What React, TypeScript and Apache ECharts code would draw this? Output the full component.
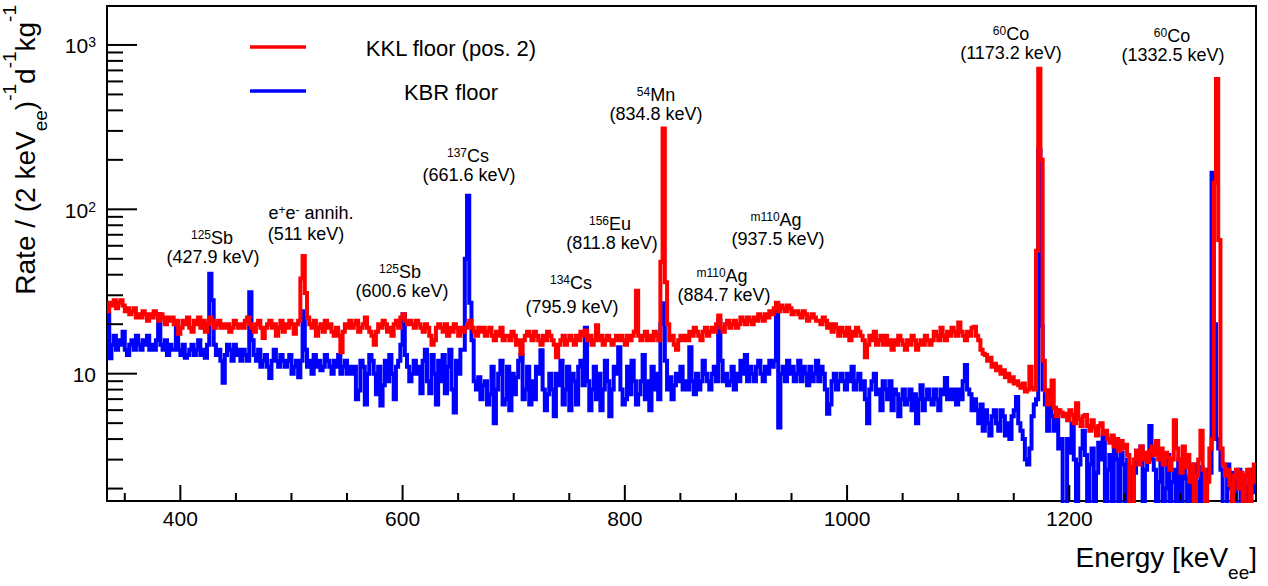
import React, { useEffect, useRef } from 'react';
import * as echarts from 'echarts';

const FONT = "'Liberation Sans', Arial, Helvetica, sans-serif";

// Histogram binning (2 keV bins) and axis ranges
const X_MIN = 334;
const X_MAX = 1368;
const BIN_WIDTH = 2;
const Y_MIN = 1.68;
const Y_MAX = 1726;

// Rate per bin, bins starting at 334 keV, 2 keV wide (517 bins)
const kklFloor: number[] = [
  24, 27, 26, 28, 25, 27, 28, 26, 24, 25,
  23, 24, 25, 22, 23, 22, 24, 23, 21, 23,
  22, 24, 23, 21, 23, 22, 20, 22, 21, 22,
  20, 21, 17.5, 19, 21, 20, 22, 19, 18, 21,
  20, 22, 19, 21, 18, 20, 22, 21, 19, 20,
  21, 19, 20, 19, 20, 18, 19, 21, 20, 19,
  20, 19, 21, 22, 20, 19, 18, 20, 21, 19,
  16.5, 19, 20, 21, 19, 20, 17, 19, 21, 18,
  20, 19, 21, 20, 17.5, 20, 21, 38, 52, 31,
  22, 20, 19, 21, 17, 19, 20, 18, 21, 19,
  20, 18, 17, 19, 17, 13.5, 18, 20, 19, 21,
  19, 20, 21, 18, 19, 20, 22, 19, 18, 17,
  15, 18, 20, 19, 21, 20, 18, 19, 17, 20,
  21, 19, 22, 23, 21, 20, 21, 20, 19, 21,
  20, 19, 18, 20, 19, 17, 15, 16, 19, 20,
  19, 18, 20, 17, 19, 18, 20, 19, 17, 19,
  18, 19, 20, 21, 19, 18, 17, 19, 18, 19,
  17, 18, 19, 17, 16, 18, 17, 19, 16, 17,
  17, 16, 18, 17, 15, 16, 13.2, 16, 17, 18,
  17, 16, 18, 17, 16, 15, 17, 16, 18, 17,
  16, 15, 12.6, 15, 16, 17, 15, 16, 17, 16,
  15, 17, 16, 18, 17, 18.3, 16, 17, 15, 16,
  19.7, 16, 17, 15, 16, 17, 16, 15, 16, 17,
  16, 17, 16, 15, 17, 16, 17, 18, 32, 17,
  16, 17, 18, 16, 17, 16, 18, 17, 16, 48,
  310, 36, 20, 16, 17, 15, 14, 16, 17, 16,
  17, 16, 18, 17, 19, 18, 17, 16, 18, 19,
  17, 18, 19, 18, 20, 22.6, 19, 18, 20, 21,
  19, 20, 21, 19, 20, 22, 21, 20, 22, 21,
  20, 22, 21, 23, 22, 21, 23, 22, 24, 23,
  25, 27, 24, 26, 25, 24, 26, 25, 23, 24,
  24, 23, 22, 24, 23, 21, 22, 23, 22, 21,
  21, 20, 22, 21, 19, 20, 18, 20, 19, 17,
  19, 18, 17, 19, 16, 18, 17, 19, 18, 17,
  16, 12.6, 15, 17, 16, 18, 15, 16, 17, 15,
  17, 15, 16, 14, 16, 15, 17, 16, 15, 14,
  16, 15, 17, 16, 14, 15, 16, 15, 17, 16,
  15, 16, 18, 17, 16, 19, 17, 16, 18, 17,
  19, 18, 17, 20.5, 18, 17, 16, 18, 17, 19,
  19.3, 17, 16, 14, 13.2, 13, 12, 12.5, 11, 11.5,
  10.5, 11, 10, 10.5, 9.5, 10, 9, 9.5, 8.7, 9,
  8.5, 8.2, 8.7, 7.8, 8, 11, 8.2, 8, 56, 716,
  200, 12, 7.9, 6.5, 7, 9.1, 6.2, 5.5, 6, 5.8,
  5.5, 5.7, 5.2, 6.0, 5.6, 5.0, 6.6, 5.3, 4.8, 5.5,
  5.6, 4.8, 4.5, 5.2, 4.7, 4.2, 4.8, 5.0, 4.3, 4.5,
  4.0, 3.8, 4.2, 3.6, 4.0, 3.4, 3.9, 3.5, 3.7, 3.2,
  1.5, 1.5, 3.0, 3.4, 2.8, 3.6, 3.0, 3.3, 2.9, 3.4,
  3.6, 3.2, 3.9, 3.0, 3.5, 2.8, 3.3, 3.1, 2.6, 3.0,
  5.2, 3.5, 3.0, 2.5, 3.6, 2.7, 3.2, 2.2, 2.8, 1.5,
  2.4, 3.0, 4.5, 2.6, 1.5, 2.2, 3.5, 4.0, 145, 620,
  65, 3.5, 2.8, 2.4, 2.6, 2.1, 1.5, 2.4, 2.6, 2.0,
  2.5, 1.5, 2.4, 2.6, 1.5, 2.2, 2.8,
];

const kbrFloor: number[] = [
  23, 12.4, 15, 17, 14, 16, 15, 18, 14, 13,
  15, 16, 14, 17, 15, 14, 16, 15, 17, 14,
  15, 14, 16, 23, 15, 14, 16, 13, 15, 14,
  14, 20, 14, 13, 15, 12.5, 13, 14, 15, 13,
  14, 16, 13, 14, 12.5, 15, 40.6, 28, 15, 13,
  14, 12, 8.8, 13, 15, 14, 12, 15, 13, 14,
  12, 14, 13, 12, 31.3, 16, 13, 12, 14, 11,
  12, 13, 11, 9.4, 12, 14, 12, 11, 13, 12,
  11, 12, 13, 10, 11, 12, 9.5, 12, 24, 14,
  11, 12, 10, 13, 11, 12, 10.5, 11, 13, 12,
  11, 10, 12, 11, 13, 10, 11, 12, 10, 11,
  10, 11, 7, 7.9, 12, 11, 6.5, 10, 13, 12,
  10, 7.5, 11, 6.4, 8.5, 12, 9, 13, 10, 7,
  11, 12, 15, 23, 13, 11, 9, 10, 12, 10,
  11, 7.6, 12, 14, 9, 7.6, 13, 10, 6.5, 12,
  9, 13, 7.6, 11, 14, 8, 5.8, 12, 10, 14,
  14, 50, 121, 27, 16, 9, 8, 9.5, 7, 8.5,
  9, 6.5, 7.5, 11, 5.0, 8, 10, 12, 6.5, 7,
  11, 6, 10, 7.5, 9.5, 12, 13, 7, 8, 11,
  6.5, 9, 7, 11, 10, 13.9, 8, 6, 7.5, 10,
  8, 5.5, 10, 8.5, 12, 6.5, 8, 11, 6, 10,
  9, 6.5, 11, 12, 8.5, 19, 9, 6, 8, 11,
  7, 10, 6, 8, 12, 9, 5.5, 8, 11, 10,
  14.5, 8, 6.5, 7, 11, 7.5, 12, 9, 6.5, 7.5,
  9, 13, 7, 9, 6, 11, 8, 10, 7, 20,
  26.8, 12, 8, 9.5, 7, 8.5, 10, 9, 11, 8,
  9, 8, 14.5, 9, 7.5, 10, 8, 9, 12, 10,
  9, 8, 10, 11, 9, 21, 12, 9, 10, 8.5,
  9, 11, 8, 10, 9, 12, 10, 13, 9, 11,
  10, 9, 11, 12, 10, 9, 11, 10, 12, 11,
  12, 26.8, 4.7, 10, 11, 9, 12, 10, 11, 9,
  10, 12, 9, 11, 10, 8.5, 11, 9, 10, 12,
  9, 11, 10, 8, 5.7, 6.5, 9, 10, 8, 9,
  10, 9, 8, 10, 9, 11, 8, 9, 10, 8,
  9, 7, 5, 8, 9, 10, 7.5, 8, 6, 9,
  8, 7, 9, 6, 8, 7.5, 5.5, 7, 8, 6.5,
  7, 8, 6, 7.5, 5, 7, 8.5, 6, 7, 8,
  7, 6.5, 8, 7, 6, 8, 7.5, 9.4, 7, 8,
  7, 8, 6.5, 8, 7, 9, 11.3, 8, 7.5, 6,
  7, 6, 5, 6.5, 4.5, 6, 5, 4.2, 5.5, 6,
  5, 4.5, 6, 5.5, 4.2, 5, 4, 5.5, 6, 7.2,
  5, 4.5, 4, 3.0, 2.8, 3.5, 5.5, 6.5, 7, 230,
  19.6, 8, 6.5, 4.5, 7.9, 5.5, 4.5, 6, 3.5, 4,
  1.5, 1.5, 4, 3.3, 5, 3, 1.5, 2.8, 3.5, 4.5,
  3.2, 1.5, 2.8, 3.5, 1.5, 2.5, 3.8, 3, 4.2, 1.5,
  2.6, 3.2, 1.5, 3.6, 3, 1.5, 3.3, 2.8, 1.5, 3,
  2.7, 1.5, 2.5, 3.4, 2.9, 3.6, 1.5, 2.6, 3.2, 4.8,
  3, 2.6, 1.5, 2.2, 3, 1.5, 2.0, 3.2, 1.5, 2.2,
  2.6, 1.5, 3.0, 1.5, 2.6, 2.3, 1.5, 2.4, 1.5, 2.8,
  2.2, 1.5, 2.7, 1.5, 2.0, 2.6, 2.5, 167, 20, 4,
  3.5, 2.6, 1.5, 1.5, 2.8, 2.0, 2.5, 1.5, 2.2, 2.6,
  1.5, 2.4, 2.0, 1.5, 2.6, 1.9, 2.2,
];

const seriesNames = ['KKL floor (pos. 2)', 'KBR floor'];

const xMajorTicks = [400, 600, 800, 1000, 1200];
const xMinorTicks = [350, 450, 500, 550, 650, 700, 750, 850, 900, 950, 1050, 1100, 1150, 1250, 1300, 1350];
const yMajorTicks = [10, 100, 1000];
const yMinorTicks = [2, 3, 4, 5, 6, 7, 8, 9, 20, 30, 40, 50, 60, 70, 80, 90, 200, 300, 400, 500, 600, 700, 800, 900];
const yTickLabels = ['10', '10{s|2}', '10{s|3}'];

const peakNames = [
  '{s|125}{m|Sb}', '{m|e}{s|+}{m|e}{s|-}{m| annih.}', '{s|125}{m|Sb}', '{s|137}{m|Cs}', '{s|134}{m|Cs}',
  '{s|156}{m|Eu}', '{s|54}{m|Mn}', '{s|m110}{m|Ag}', '{s|m110}{m|Ag}', '{s|60}{m|Co}', '{s|60}{m|Co}',
];
const peakEnergies = [
  '(427.9 keV)', '(511 keV)', '(600.6 keV)', '(661.6 keV)', '(795.9 keV)', '(811.8 keV)',
  '(834.8 keV)', '(884.7 keV)', '(937.5 keV)', '(1173.2 keV)', '(1332.5 keV)',
];
// label layout in pixels: [x line1, y line1, x line2, y line2]
const peakLayout = [
  [212, 238, 213, 257], [311, 213, 306, 234], [400, 272, 402, 291], [468, 156, 469, 175],
  [571, 283, 572, 307], [610, 224, 612, 243], [656, 95, 656, 114], [722, 276, 724, 295],
  [776, 220, 778, 239], [1011, 34, 1011, 53], [1172, 36, 1173, 55],
];

function histSteps(vals: number[]) {
  const pts = vals.map((v, i) => [X_MIN + i * BIN_WIDTH, v]);
  pts.push([X_MIN + vals.length * BIN_WIDTH, vals[vals.length - 1]]);
  return pts;
}

const tickData = [
  ...xMajorTicks.map((v) => [v, Y_MIN, 16, 0]),
  ...xMinorTicks.map((v) => [v, Y_MIN, 8, 0]),
  ...yMajorTicks.map((v) => [X_MIN, v, 30, 1]),
  ...yMinorTicks.map((v) => [X_MIN, v, 16, 1]),
];

function nativeText(text: string, fontSize: number, extra: any = {}) {
  return {
    legacy: false,
    text,
    fill: '#000',
    fontSize,
    fontFamily: FONT,
    ...extra,
  };
}

export default function App() {
  const ref = useRef<HTMLDivElement>(null);

  useEffect(() => {
    if (!ref.current) return;
    const chart = echarts.init(ref.current, null, { renderer: 'svg' });

    const annotationGraphics: any[] = [];
    peakNames.forEach((name, i) => {
      const [x1, y1, x2, y2] = peakLayout[i];
      annotationGraphics.push({
        type: 'text', x: x1, y: y1 + 9, silent: true,
        style: nativeText(name, 18, {
          align: 'center', verticalAlign: 'bottom',
          rich: {
            m: { fontSize: 18, fontFamily: FONT, fill: '#000', lineHeight: 18, verticalAlign: 'bottom' },
            s: { fontSize: 12, fontFamily: FONT, fill: '#000', lineHeight: 12, verticalAlign: 'top', padding: [0, 0, 12, 0] },
          },
        }),
      });
      annotationGraphics.push({
        type: 'text', x: x2, y: y2, silent: true,
        style: nativeText(peakEnergies[i], 18, { align: 'center', verticalAlign: 'middle', lineHeight: 16 }),
      });
    });

    const option: any = {
      animation: false,
      backgroundColor: '#ffffff',
      grid: {
        left: 107, top: 6, right: 12, bottom: 85,
        show: true, borderColor: '#000', borderWidth: 2, backgroundColor: 'transparent',
      },
      xAxis: {
        type: 'value', min: X_MIN, max: X_MAX,
        axisLine: { show: false }, axisTick: { show: false }, axisLabel: { show: false },
        splitLine: { show: false },
      },
      yAxis: {
        type: 'log', logBase: 10, min: Y_MIN, max: Y_MAX,
        axisLine: { show: false }, axisTick: { show: false }, axisLabel: { show: false },
        splitLine: { show: false }, minorTick: { show: false },
      },
      series: [
        {
          name: seriesNames[1], type: 'line', step: 'end', data: histSteps(kbrFloor),
          symbol: 'none', showSymbol: false, clip: true, z: 2,
          lineStyle: { color: '#0000ff', width: 4, join: 'miter', cap: 'butt' },
        },
        {
          name: seriesNames[0], type: 'line', step: 'end', data: histSteps(kklFloor),
          symbol: 'none', showSymbol: false, clip: true, z: 3,
          lineStyle: { color: '#ff0000', width: 4, join: 'miter', cap: 'butt' },
        },
        {
          type: 'custom', z: 10, silent: true, clip: false, data: tickData,
          renderItem: (params: any, api: any) => {
            const p = api.coord([api.value(0), api.value(1)]);
            const len = api.value(2);
            const dir = api.value(3);
            const shape = dir === 0
              ? { x1: p[0], y1: p[1], x2: p[0], y2: p[1] - len }
              : { x1: p[0], y1: p[1], x2: p[0] + len, y2: p[1] };
            return { type: 'line', shape, style: { stroke: '#000', lineWidth: 2 } };
          },
        },
        {
          type: 'custom', z: 10, silent: true, clip: false,
          data: xMajorTicks.map((v) => [v, Y_MIN]),
          renderItem: (params: any, api: any) => {
            const v = api.value(0);
            const p = api.coord([v, api.value(1)]);
            return {
              type: 'text', x: p[0], y: p[1] + 17,
              style: nativeText(String(v), 21, { align: 'center', verticalAlign: 'middle' }),
            };
          },
        },
        {
          type: 'custom', z: 10, silent: true, clip: false,
          data: yMajorTicks.map((v, i) => [X_MIN, v, i]),
          renderItem: (params: any, api: any) => {
            const p = api.coord([api.value(0), api.value(1)]);
            const label = yTickLabels[api.value(2)];
            return {
              type: 'text', x: p[0] - 11, y: p[1] + 1,
              style: nativeText(label, 21, {
                align: 'right', verticalAlign: 'middle', lineHeight: 21,
                rich: { s: { fontSize: 14, fontFamily: FONT, fill: '#000', lineHeight: 14, verticalAlign: 'top' } },
              }),
            };
          },
        },
      ],
      graphic: [
        { type: 'line', silent: true, shape: { x1: 250, y1: 47, x2: 306, y2: 47 }, style: { stroke: '#ff0000', lineWidth: 3.5 } },
        { type: 'line', silent: true, shape: { x1: 250, y1: 91, x2: 306, y2: 91 }, style: { stroke: '#0000ff', lineWidth: 3.5 } },
        { type: 'text', x: 451, y: 48, silent: true, style: nativeText(seriesNames[0], 22, { align: 'center', verticalAlign: 'middle' }) },
        { type: 'text', x: 451, y: 92, silent: true, style: nativeText(seriesNames[1], 22, { align: 'center', verticalAlign: 'middle' }) },
        {
          type: 'text', x: 1257, y: 557, silent: true,
          style: nativeText('Energy [keV{sub|ee}]', 28, {
            align: 'right', verticalAlign: 'middle', lineHeight: 50,
            rich: { sub: { fontSize: 19, fontFamily: FONT, fill: '#000', lineHeight: 19, verticalAlign: 'bottom' } },
          }),
        },
        {
          type: 'text', x: 25, y: 5, rotation: Math.PI / 2, silent: true,
          style: nativeText('Rate / (2 keV{sub|ee}){sup|-1}d{sup|-1}kg{sup|-1}', 28, {
            align: 'right', verticalAlign: 'middle', lineHeight: 50,
            rich: {
              sub: { fontSize: 19, fontFamily: FONT, fill: '#000', lineHeight: 19, verticalAlign: 'bottom' },
              sup: { fontSize: 19, fontFamily: FONT, fill: '#000', lineHeight: 27, verticalAlign: 'top' },
            },
          }),
        },
        ...annotationGraphics,
      ],
    };

    chart.setOption(option);
    return () => chart.dispose();
  }, []);

  return (
    <div
      ref={ref}
      style={{ position: 'fixed', left: 0, top: 0, width: 1268, height: 586, background: '#fff' }}
    />
  );
}
